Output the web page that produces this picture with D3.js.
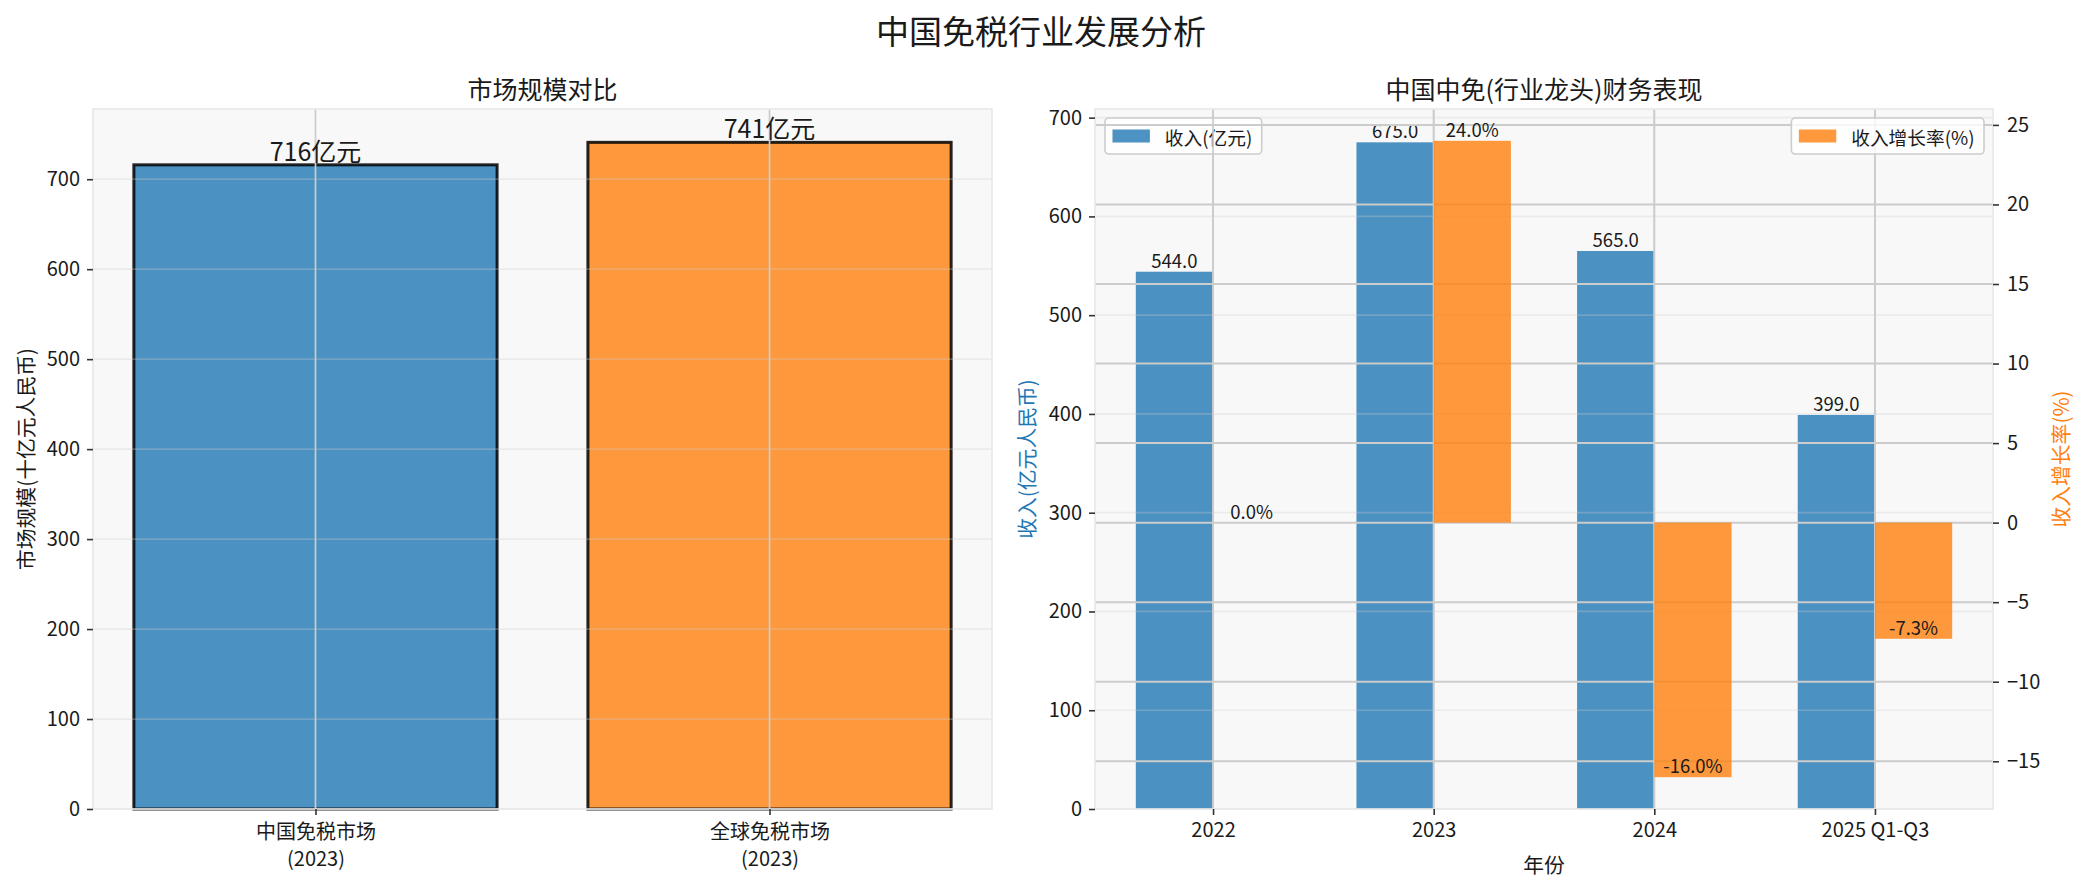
<!DOCTYPE html>
<html><head><meta charset="utf-8">
<script src="https://cdn.jsdelivr.net/npm/d3@7"></script>
<style>
body{margin:0;background:#fff;}
svg{display:block;}
text{font-family:"Noto Sans CJK SC","Noto Sans",sans-serif;fill:#1a1a1a;}
</style>
</head><body>
<svg id="c" width="2083" height="891"></svg>
<script>
// ---------- data ----------
const marketCategories = ["中国免税市场", "全球免税市场"];
const marketYears = ["(2023)", "(2023)"];
const marketValues = [716, 741];
const marketLabels = ["716亿元", "741亿元"];
const marketTicks = [0, 100, 200, 300, 400, 500, 600, 700];

const years = ["2022", "2023", "2024", "2025 Q1-Q3"];
const revenue = [544.0, 675.0, 565.0, 399.0];
const growth = [0.0, 24.0, -16.0, -7.3];
const revenueTicks = [0, 100, 200, 300, 400, 500, 600, 700];
const growthTicks = [-15, -10, -5, 0, 5, 10, 15, 20, 25];

// ---------- style ----------
const BLUE = "#1f77b4", ORANGE = "#ff7f0e", BG = "#f8f8f8";
const TICK_FS = 20, LABEL_FS = 20.8, VAL_FS = 18.5;

const svg = d3.select("#c");

function styleAxis(g) {
  g.select(".domain").remove();
  g.selectAll(".tick line").attr("stroke", "#333").attr("stroke-width", 1.6);
  g.selectAll(".tick text").style("font-size", TICK_FS + "px").attr("fill", "#1a1a1a");
}

// suptitle
svg.append("text").attr("x", 1041).attr("y", 30).attr("text-anchor", "middle")
  .attr("dominant-baseline", "central").style("font-size", "33px").text("中国免税行业发展分析");

// ================= LEFT CHART =================
{
  const L = {x0: 93, x1: 992, y0: 109, y1: 809};
  const x = d3.scaleLinear().domain([-0.49, 1.49]).range([L.x0, L.x1]);
  const y = d3.scaleLinear().domain([0, 741 * 1.05]).range([L.y1, L.y0]);
  const g = svg.append("g");
  g.append("rect").attr("x", L.x0).attr("y", L.y0).attr("width", L.x1 - L.x0).attr("height", L.y1 - L.y0).attr("fill", BG);

  const cols = [BLUE, ORANGE];
  g.selectAll(".bar").data(marketValues).join("rect")
    .attr("x", (d, i) => x(i - 0.4)).attr("width", (d, i) => x(i + 0.4) - x(i - 0.4))
    .attr("y", d => y(d)).attr("height", d => y(0) - y(d))
    .attr("fill", (d, i) => cols[i]).attr("fill-opacity", 0.8)
    .attr("stroke", "#000").attr("stroke-opacity", 0.85).attr("stroke-width", 3);

  // grid (above bars)
  g.selectAll(".hg").data(marketTicks).join("line")
    .attr("x1", L.x0).attr("x2", L.x1).attr("y1", d => y(d)).attr("y2", d => y(d))
    .attr("stroke", "#cccccc").attr("stroke-opacity", 0.3).attr("stroke-width", 1.7);
  g.selectAll(".vg").data(marketValues).join("line")
    .attr("x1", (d, i) => x(i)).attr("x2", (d, i) => x(i)).attr("y1", L.y0).attr("y2", L.y1)
    .attr("stroke", "#cccccc").attr("stroke-width", 1.7);

  // spines
  g.append("rect").attr("x", L.x0).attr("y", L.y0).attr("width", L.x1 - L.x0).attr("height", L.y1 - L.y0)
    .attr("fill", "none").attr("stroke", "#e8e8e8").attr("stroke-width", 1.6);

  // value labels
  g.selectAll(".vl").data(marketValues).join("text")
    .attr("x", (d, i) => x(i)).attr("y", d => y(d) - 4).attr("text-anchor", "middle")
    .style("font-size", "25px").text((d, i) => marketLabels[i]);

  // axes
  g.append("g").attr("transform", `translate(${L.x0},0)`)
    .call(d3.axisLeft(y).tickValues(marketTicks).tickSize(6).tickPadding(7).tickFormat(d3.format("d")))
    .call(styleAxis);
  const xa = g.append("g").attr("transform", `translate(0,${L.y1})`)
    .call(d3.axisBottom(x).tickValues([0, 1]).tickSize(6).tickPadding(7).tickFormat(""))
    .call(styleAxis);
  xa.selectAll(".tick").each(function (d) {
    const t = d3.select(this).append("text").attr("fill", "#1a1a1a").style("font-size", TICK_FS + "px")
      .attr("text-anchor", "middle");
    t.append("tspan").attr("x", 0).attr("y", 30).text(marketCategories[d]);
    t.append("tspan").attr("x", 0).attr("y", 57).text(marketYears[d]);
  });

  // titles
  g.append("text").attr("x", (L.x0 + L.x1) / 2).attr("y", 88).attr("text-anchor", "middle")
    .attr("dominant-baseline", "central").style("font-size", "25px").text("市场规模对比");
  g.append("text").attr("transform", `translate(25,${(L.y0 + L.y1) / 2}) rotate(-90)`)
    .attr("text-anchor", "middle").attr("dominant-baseline", "central")
    .style("font-size", LABEL_FS + "px").text("市场规模(十亿元人民币)");
}

// ================= RIGHT CHART =================
{
  const R = {x0: 1095, x1: 1993, y0: 109, y1: 809};
  const W = 0.35;
  const x = d3.scaleLinear().domain([-0.535, 3.535]).range([R.x0, R.x1]);
  const y1 = d3.scaleLinear().domain([0, 675 * 1.05]).range([R.y1, R.y0]);
  const y2 = d3.scaleLinear().domain([-18, 26]).range([R.y1, R.y0]);
  const g = svg.append("g");
  g.append("rect").attr("x", R.x0).attr("y", R.y0).attr("width", R.x1 - R.x0).attr("height", R.y1 - R.y0).attr("fill", BG);

  // ax1 bars
  g.selectAll(".rb").data(revenue).join("rect")
    .attr("x", (d, i) => x(i - W)).attr("width", (d, i) => x(i) - x(i - W))
    .attr("y", d => y1(d)).attr("height", d => y1(0) - y1(d))
    .attr("fill", BLUE).attr("fill-opacity", 0.8);
  // ax1 grid
  g.selectAll(".hg").data(revenueTicks).join("line")
    .attr("x1", R.x0).attr("x2", R.x1).attr("y1", d => y1(d)).attr("y2", d => y1(d))
    .attr("stroke", "#cccccc").attr("stroke-opacity", 0.3).attr("stroke-width", 1.7);
  g.selectAll(".vg").data(years).join("line")
    .attr("x1", (d, i) => x(i)).attr("x2", (d, i) => x(i)).attr("y1", R.y0).attr("y2", R.y1)
    .attr("stroke", "#cccccc").attr("stroke-width", 1.7);
  // ax1 labels
  g.selectAll(".rl").data(revenue).join("text")
    .attr("x", (d, i) => x(i - W / 2)).attr("y", d => y1(d) - 4).attr("text-anchor", "middle")
    .style("font-size", VAL_FS + "px").text(d => d.toFixed(1));

  // legend helper
  function legend(xAnchor, anchorRight, color, label) {
    const lg = g.append("g");
    const fs = 18.7;
    const t = lg.append("text").style("font-size", fs + "px").attr("dominant-baseline", "central").text(label);
    const tw = t.node().getComputedTextLength();
    const pad = 0.4 * fs, hw = 2 * fs, htp = 0.8 * fs;
    const bw = pad + hw + htp + tw + pad + 2, bh = 36;
    const bx = anchorRight ? xAnchor - bw : xAnchor, by = R.y0 + 9;
    lg.insert("rect", "text").attr("x", bx).attr("y", by).attr("width", bw).attr("height", bh).attr("rx", 4)
      .attr("fill", "#ffffff").attr("fill-opacity", 0.8).attr("stroke", "#cccccc").attr("stroke-width", 1.6);
    lg.insert("rect", "text").attr("x", bx + pad).attr("y", by + bh / 2 - 6.5).attr("width", hw).attr("height", 13)
      .attr("fill", color).attr("fill-opacity", 0.8);
    t.attr("x", bx + pad + hw + htp).attr("y", by + bh / 2);
  }
  legend(R.x0 + 10, false, BLUE, "收入(亿元)");

  // ax2 grid (full)
  g.selectAll(".hg2").data(growthTicks).join("line")
    .attr("x1", R.x0).attr("x2", R.x1).attr("y1", d => y2(d)).attr("y2", d => y2(d))
    .attr("stroke", "#cccccc").attr("stroke-width", 2);
  g.selectAll(".vg2").data(years).join("line")
    .attr("x1", (d, i) => x(i)).attr("x2", (d, i) => x(i)).attr("y1", R.y0).attr("y2", R.y1)
    .attr("stroke", "#cccccc").attr("stroke-width", 1.7);
  // ax2 bars
  g.selectAll(".gb").data(growth).join("rect")
    .attr("x", (d, i) => x(i)).attr("width", (d, i) => x(i + W) - x(i))
    .attr("y", d => y2(Math.max(d, 0))).attr("height", d => Math.abs(y2(d) - y2(0)))
    .attr("fill", ORANGE).attr("fill-opacity", 0.8);
  g.selectAll(".gl").data(growth).join("text")
    .attr("x", (d, i) => x(i + W / 2)).attr("y", d => y2(d) - 4).attr("text-anchor", "middle")
    .style("font-size", VAL_FS + "px").text(d => d.toFixed(1) + "%");
  legend(R.x1 - 9, true, ORANGE, "收入增长率(%)");

  // spines
  g.append("rect").attr("x", R.x0).attr("y", R.y0).attr("width", R.x1 - R.x0).attr("height", R.y1 - R.y0)
    .attr("fill", "none").attr("stroke", "#e8e8e8").attr("stroke-width", 1.6);

  // axes
  g.append("g").attr("transform", `translate(${R.x0},0)`)
    .call(d3.axisLeft(y1).tickValues(revenueTicks).tickSize(6).tickPadding(7).tickFormat(d3.format("d")))
    .call(styleAxis);
  g.append("g").attr("transform", `translate(${R.x1},0)`)
    .call(d3.axisRight(y2).tickValues(growthTicks).tickSize(6).tickPadding(8).tickFormat(d3.format("d")))
    .call(styleAxis);
  g.append("g").attr("transform", `translate(0,${R.y1})`)
    .call(d3.axisBottom(x).tickValues([0, 1, 2, 3]).tickSize(6).tickPadding(8).tickFormat(i => years[i]))
    .call(styleAxis);

  // titles & labels
  g.append("text").attr("x", (R.x0 + R.x1) / 2).attr("y", 88).attr("text-anchor", "middle")
    .attr("dominant-baseline", "central").style("font-size", "25px").text("中国中免(行业龙头)财务表现");
  g.append("text").attr("x", (R.x0 + R.x1) / 2).attr("y", 864).attr("text-anchor", "middle")
    .attr("dominant-baseline", "central").style("font-size", LABEL_FS + "px").text("年份");
  g.append("text").attr("transform", `translate(1026,${(R.y0 + R.y1) / 2}) rotate(-90)`)
    .attr("text-anchor", "middle").attr("dominant-baseline", "central")
    .style("font-size", LABEL_FS + "px").style("fill", BLUE).text("收入(亿元人民币)");
  g.append("text").attr("transform", `translate(2060,${(R.y0 + R.y1) / 2}) rotate(-90)`)
    .attr("text-anchor", "middle").attr("dominant-baseline", "central")
    .style("font-size", LABEL_FS + "px").style("fill", ORANGE).text("收入增长率(%)");
}
</script>
</body></html>
